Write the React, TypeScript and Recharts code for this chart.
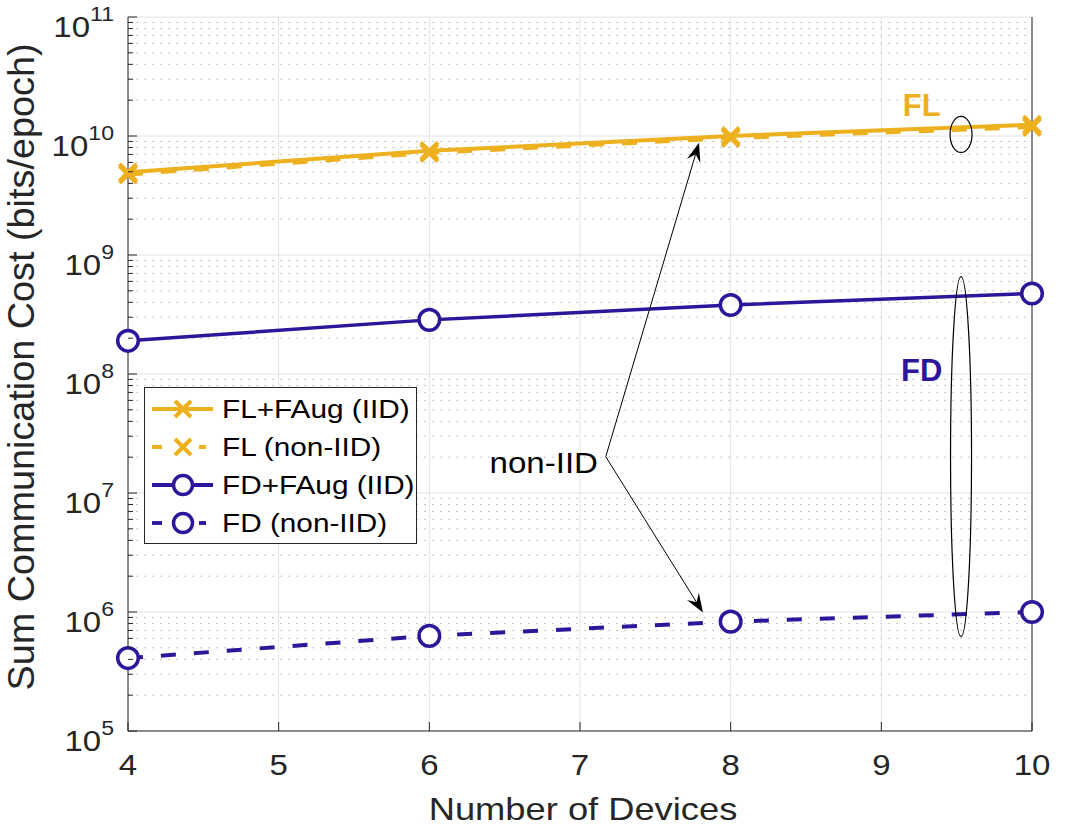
import React from 'react';
import {
  LineChart,
  Line,
  XAxis,
  YAxis,
  CartesianGrid,
  ReferenceLine,
  ReferenceDot,
  Legend,
} from 'recharts';

// ---------- data ----------
const devices = [4, 6, 8, 10];
const flIid = [4.95e9, 7.5e9, 1.0e10, 1.245e10];
const flNonIid = [4.75e9, 7.2e9, 9.6e9, 1.19e10];
const fdIid = [1.9e8, 2.85e8, 3.8e8, 4.75e8];
const fdNonIid = [4.1e5, 6.3e5, 8.3e5, 1.0e6];

const xTicks = [4, 5, 6, 7, 8, 9, 10];
const decadeExps = [5, 6, 7, 8, 9, 10, 11];
const minorMultipliers = [2, 3, 4, 5, 6, 7, 8, 9];

const seriesNames = ['FL+FAug (IID)', 'FL (non-IID)', 'FD+FAug (IID)', 'FD (non-IID)'];
const xLabel = 'Number of Devices';
const yLabel = 'Sum Communication Cost (bits/epoch)';

// annotations (data coordinates)
const groupLabels = [
  { text: 'FL', x: 9.268, y: 1.48e10, color: '#EDB120' },
  { text: 'FD', x: 9.268, y: 8.65e7, color: '#2E1599' },
];
const noteText = { text: 'non-IID', x: 6.4, y: 1.48e7 };
const arrows = [
  { from: { x: 7.171, y: 2.02e7 }, to: { x: 7.79, y: 8.78e9 } },
  { from: { x: 7.171, y: 2.02e7 }, to: { x: 7.816, y: 9.9e5 } },
];
const ellipses = [
  { x: 9.529, y: 1.03e10, rx: 11, ry: 18 },
  { x: 9.529, y: 2.02e7, rx: 10.5, ry: 180 },
];

// ---------- derived ----------
const majorVals = decadeExps.map((e) => Math.pow(10, e));
const minorVals: number[] = [];
decadeExps.slice(0, -1).forEach((e) => minorMultipliers.forEach((m) => minorVals.push(m * Math.pow(10, e))));
const allYTicks = [...majorVals, ...minorVals].sort((a, b) => a - b);

const data = devices.map((d, i) => ({
  x: d,
  flIid: flIid[i],
  flNonIid: flNonIid[i],
  fdIid: fdIid[i],
  fdNonIid: fdNonIid[i],
}));

const ORANGE = '#EDB120';
const PURPLE = '#2E1599';
const AX = '#262626';
const FONT = '"Liberation Sans", Arial, Helvetica, sans-serif';

const isMajor = (v: number) => {
  const e = Math.round(Math.log10(v));
  return Math.abs(v - Math.pow(10, e)) < 1e-6 * v;
};

const LeftYTick = (props: any) => {
  const { x, y, payload } = props;
  const v = payload.value;
  const major = isMajor(v);
  const e = Math.round(Math.log10(v));
  return (
    <g>
      <line x1={x} x2={x + (major ? 9 : 5)} y1={y} y2={y} stroke={AX} strokeWidth={1} />
      {major && (
        <text
          transform={`translate(${x - 14},${y + 20}) scale(1.1,1)`}
          textAnchor="end"
          fontSize={30}
          fill={AX}
          fontFamily={FONT}
        >
          10
          <tspan dy={-16} fontSize={21}>
            {e}
          </tspan>
        </text>
      )}
    </g>
  );
};

const RightYTick = (props: any) => {
  const { x, y, payload } = props;
  const major = isMajor(payload.value);
  return <line x1={x} x2={x - (major ? 9 : 5)} y1={y} y2={y} stroke={AX} strokeWidth={1} />;
};

const BottomXTick = (props: any) => {
  const { x, y, payload } = props;
  return (
    <g>
      <line x1={x} x2={x} y1={y} y2={y - 9} stroke={AX} strokeWidth={1} />
      <text
        transform={`translate(${x},${y + 44}) scale(1.1,1)`}
        textAnchor="middle"
        fontSize={30}
        fill={AX}
        fontFamily={FONT}
      >
        {payload.value}
      </text>
    </g>
  );
};

const TopXTick = (props: any) => {
  const { x, y } = props;
  return <line x1={x} x2={x} y1={y} y2={y + 9} stroke={AX} strokeWidth={1} />;
};

const XMarker = (props: any) => {
  const { cx, cy, color, half } = props;
  if (cx == null || cy == null) return null;
  const s = half ?? 8.5;
  return (
    <g>
      <line x1={cx - s} y1={cy - s} x2={cx + s} y2={cy + s} stroke={color} strokeWidth={4} />
      <line x1={cx - s} y1={cy + s} x2={cx + s} y2={cy - s} stroke={color} strokeWidth={4} />
    </g>
  );
};

const OMarker = (props: any) => {
  const { cx, cy, color, radius } = props;
  if (cx == null || cy == null) return null;
  return <circle cx={cx} cy={cy} r={radius ?? 10.3} fill="#fff" stroke={color} strokeWidth={3.5} />;
};

const arrowShape = (props: any) => {
  const { x1, y1, x2, y2 } = props;
  const dx = x2 - x1;
  const dy = y2 - y1;
  const L = Math.hypot(dx, dy) || 1;
  const ux = dx / L;
  const uy = dy / L;
  const px = -uy;
  const py = ux;
  const hl = 19;
  const hw = 7;
  const inset = 12;
  const bx = x2 - ux * hl;
  const by = y2 - uy * hl;
  const ix = x2 - ux * inset;
  const iy = y2 - uy * inset;
  return (
    <g>
      <line x1={x1} y1={y1} x2={ix} y2={iy} stroke="#000" strokeWidth={1} />
      <polygon
        points={`${x2},${y2} ${bx + px * hw},${by + py * hw} ${ix},${iy} ${bx - px * hw},${by - py * hw}`}
        fill="#000"
      />
    </g>
  );
};

const legendItems = [
  { name: seriesNames[0], color: ORANGE, dashed: false, marker: 'x' },
  { name: seriesNames[1], color: ORANGE, dashed: true, marker: 'x' },
  { name: seriesNames[2], color: PURPLE, dashed: false, marker: 'o' },
  { name: seriesNames[3], color: PURPLE, dashed: true, marker: 'o' },
];

const LegendBox = () => {
  const rows = [22, 60, 98, 136];
  return (
    <svg width={273} height={157} style={{ display: 'block' }}>
      <rect x={0.5} y={0.5} width={272} height={156} fill="#fff" stroke={AX} strokeWidth={1} />
      {legendItems.map((it, i) => {
        const cy = rows[i];
        const lw = it.marker === 'x' ? 4 : 3.8;
        return (
          <g key={it.name}>
            {it.dashed ? (
              <g>
                <line x1={8} x2={18} y1={cy} y2={cy} stroke={it.color} strokeWidth={lw} />
                <line x1={55} x2={62} y1={cy} y2={cy} stroke={it.color} strokeWidth={lw} />
              </g>
            ) : (
              <line x1={8} x2={69} y1={cy} y2={cy} stroke={it.color} strokeWidth={lw} />
            )}
            {it.marker === 'x' ? (
              <XMarker cx={39} cy={cy} color={it.color} half={8} />
            ) : (
              <OMarker cx={39} cy={cy} color={it.color} radius={9.5} />
            )}
            <text
              transform={`translate(78,${cy + 9}) scale(1.19,1)`}
              fontSize={25}
              fill="#000"
              fontFamily={FONT}
            >
              {it.name}
            </text>
          </g>
        );
      })}
    </svg>
  );
};

const XAxisLabel = (props: any) => {
  const { viewBox } = props;
  const cx = viewBox.x + viewBox.width / 2;
  return (
    <text
      transform={`translate(${cx + 3},${viewBox.y + 89}) scale(1.19,1)`}
      textAnchor="middle"
      fontSize={30.5}
      fill={AX}
      fontFamily={FONT}
    >
      {xLabel}
    </text>
  );
};

const YAxisLabel = (props: any) => {
  const { viewBox } = props;
  const cy = viewBox.y + viewBox.height / 2;
  return (
    <text
      transform={`translate(34,${cy - 7}) rotate(-90) scale(1.05,1)`}
      textAnchor="middle"
      fontSize={36}
      fill={AX}
      fontFamily={FONT}
    >
      {yLabel}
    </text>
  );
};

export default function App() {
  return (
    <div style={{ position: 'absolute', left: 0, top: 0, width: 1067, height: 828, background: '#fff' }}>
      <LineChart width={1067} height={828} data={data} margin={{ top: 17, right: 0, bottom: 0, left: 0 }}>
        <CartesianGrid
          horizontalValues={minorVals}
          vertical={false}
          stroke="#c4c4c4"
          strokeDasharray="2 6"
        />
        <CartesianGrid
          horizontalValues={majorVals}
          verticalValues={xTicks}
          stroke="#e3e3e3"
          strokeWidth={1}
        />
        <XAxis
          dataKey="x"
          type="number"
          domain={[4, 10]}
          ticks={xTicks}
          interval={0}
          height={97}
          tickSize={0}
          tickMargin={0}
          tick={<BottomXTick />}
          axisLine={{ stroke: AX, strokeWidth: 1 }}
          tickLine={false}
          label={<XAxisLabel />}
        />
        <XAxis
          xAxisId="top"
          orientation="top"
          dataKey="x"
          type="number"
          domain={[4, 10]}
          ticks={xTicks}
          interval={0}
          height={0}
          tickSize={0}
          tickMargin={0}
          tick={<TopXTick />}
          axisLine={{ stroke: AX, strokeWidth: 1 }}
          tickLine={false}
        />
        <YAxis
          scale="log"
          type="number"
          domain={[1e5, 1e11]}
          ticks={allYTicks}
          interval={0}
          width={128}
          tickSize={0}
          tickMargin={0}
          tick={<LeftYTick />}
          axisLine={{ stroke: AX, strokeWidth: 1 }}
          tickLine={false}
          label={<YAxisLabel />}
        />
        <YAxis
          yAxisId="right"
          orientation="right"
          scale="log"
          type="number"
          domain={[1e5, 1e11]}
          ticks={allYTicks}
          interval={0}
          width={35}
          tickSize={0}
          tickMargin={0}
          tick={<RightYTick />}
          axisLine={{ stroke: AX, strokeWidth: 1 }}
          tickLine={false}
        />
        <Legend
          layout="vertical"
          align="center"
          verticalAlign="middle"
          wrapperStyle={{ left: 144, top: 387, width: 273, height: 157 }}
          content={() => <LegendBox />}
        />
        <Line
          dataKey="flNonIid"
          name={seriesNames[1]}
          stroke={ORANGE}
          strokeWidth={4}
          strokeDasharray="15 18"
          dot={<XMarker color={ORANGE} />}
          isAnimationActive={false}
        />
        <Line
          dataKey="flIid"
          name={seriesNames[0]}
          stroke={ORANGE}
          strokeWidth={4}
          dot={<XMarker color={ORANGE} />}
          isAnimationActive={false}
        />
        <Line
          dataKey="fdIid"
          name={seriesNames[2]}
          stroke={PURPLE}
          strokeWidth={3.5}
          dot={<OMarker color={PURPLE} />}
          isAnimationActive={false}
        />
        <Line
          dataKey="fdNonIid"
          name={seriesNames[3]}
          stroke={PURPLE}
          strokeWidth={4}
          strokeDasharray="15 18"
          dot={<OMarker color={PURPLE} />}
          isAnimationActive={false}
        />
        {arrows.map((a, i) => (
          <ReferenceLine
            key={`arr${i}`}
            segment={[a.from, a.to]}
            shape={arrowShape}
            ifOverflow="visible"
          />
        ))}
        {ellipses.map((el, i) => (
          <ReferenceDot
            key={`el${i}`}
            x={el.x}
            y={el.y}
            ifOverflow="visible"
            shape={(p: any) => (
              <ellipse cx={p.cx} cy={p.cy} rx={el.rx} ry={el.ry} fill="none" stroke="#000" strokeWidth={1.2} />
            )}
          />
        ))}
        {groupLabels.map((g) => (
          <ReferenceDot
            key={g.text}
            x={g.x}
            y={g.y}
            ifOverflow="visible"
            shape={(p: any) => (
              <text x={p.cx} y={p.cy} textAnchor="middle" fontSize={31} fontWeight="bold" fill={g.color} fontFamily={FONT}>
                {g.text}
              </text>
            )}
          />
        ))}
        <ReferenceDot
          x={noteText.x}
          y={noteText.y}
          ifOverflow="visible"
          shape={(p: any) => (
            <text
              transform={`translate(${p.cx},${p.cy}) scale(1.12,1)`}
              fontSize={29.5}
              fill="#000"
              fontFamily={FONT}
            >
              {noteText.text}
            </text>
          )}
        />
      </LineChart>
    </div>
  );
}
